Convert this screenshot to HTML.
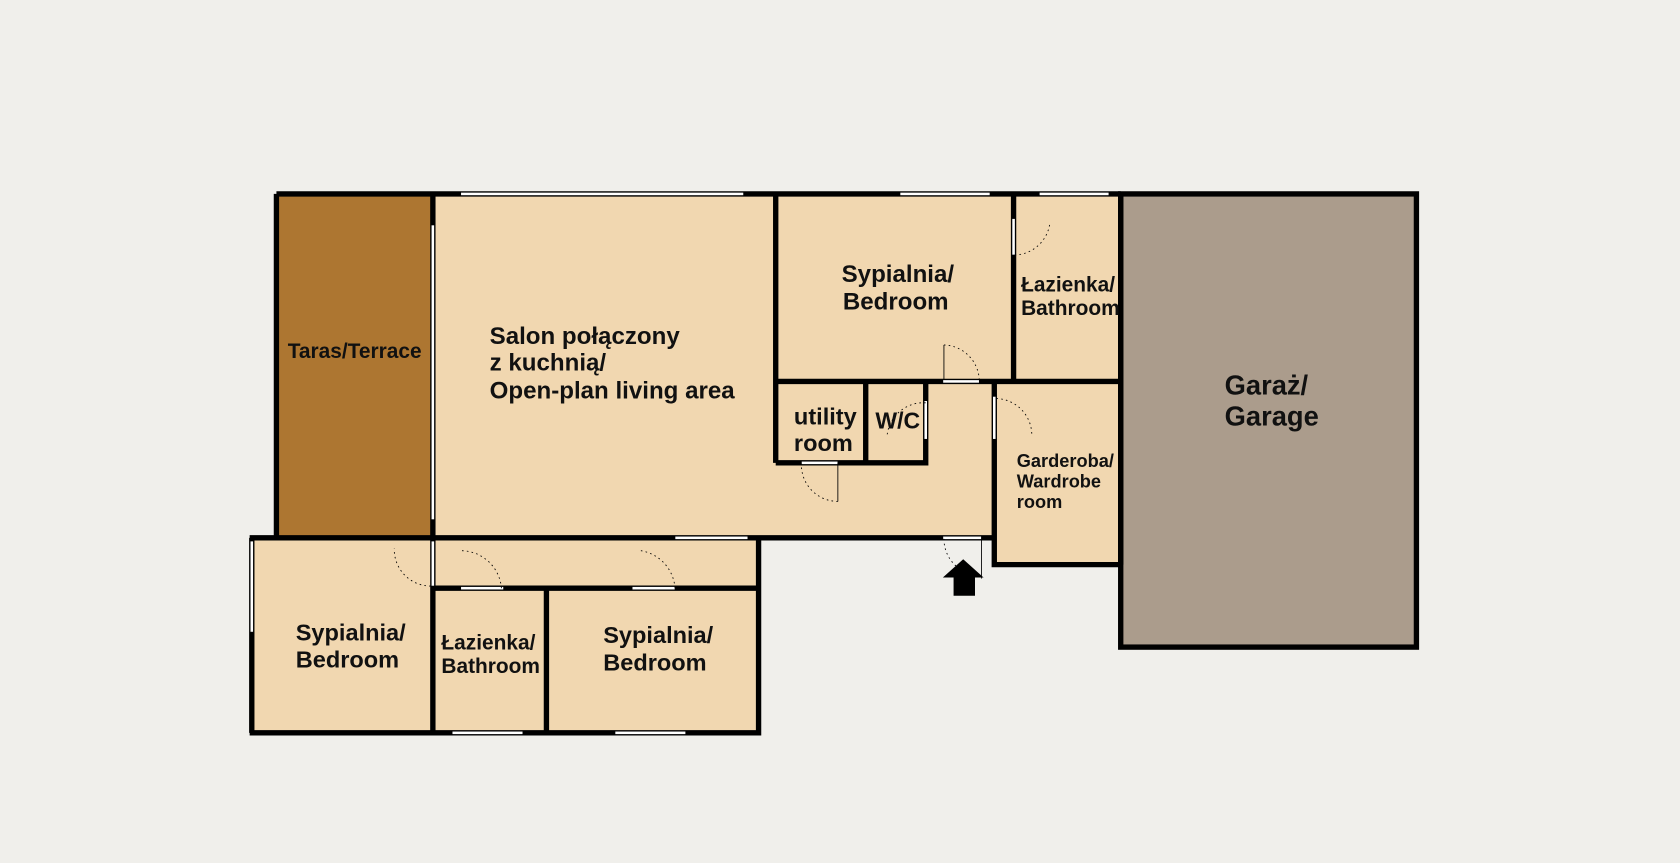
<!DOCTYPE html>
<html><head><meta charset="utf-8"><style>
html,body{margin:0;padding:0;background:#f0efeb;}
svg{display:block}
text{font-family:"Liberation Sans",sans-serif;font-weight:bold;fill:#111;}
</style></head><body>
<svg width="1680" height="863" viewBox="0 0 1568 805.5" preserveAspectRatio="none" xmlns="http://www.w3.org/2000/svg">
<rect x="0" y="0" width="1568" height="806" fill="#f0efeb"/>
<rect x="258" y="181" width="146" height="321" fill="#ad7631"/>
<rect x="404" y="181" width="642" height="321" fill="#f1d7b0"/>
<rect x="928" y="356" width="118" height="171" fill="#f1d7b0"/>
<rect x="235" y="502" width="473" height="182" fill="#f1d7b0"/>
<rect x="1046" y="181" width="276" height="423" fill="#ab9c8c"/>
<g fill="none" stroke="#000" stroke-width="5">
<path d="M258 181 H1046"/>
<path d="M258 181 V502"/>
<path d="M404 181 V502"/>
<path d="M724 181 V432"/>
<path d="M946 181 V356"/>
<path d="M1046 181 V527"/>
<path d="M724 356 H1046"/>
<path d="M724 432 H864 V356"/>
<path d="M808 356 V432"/>
<path d="M928 356 V527 H1046"/>
<path d="M233 502 H928"/>
<path d="M235 502 V684"/>
<path d="M233 684 H708 V502"/>
<path d="M404 549 H708"/>
<path d="M404 502 V684"/>
<path d="M510 549 V684"/>
<rect x="1046" y="181" width="276" height="423"/>
</g>
<g stroke="#000" stroke-width="0.6" fill="#fff">
<rect x="430" y="179.5" width="264" height="3"/>
<rect x="840" y="179.5" width="84" height="3"/>
<rect x="970" y="179.5" width="65" height="3"/>
<rect x="402.5" y="210" width="3" height="275"/>
<rect x="630" y="500.5" width="68" height="3"/>
<rect x="422" y="682.5" width="66" height="3"/>
<rect x="574" y="682.5" width="66" height="3"/>
<rect x="233.5" y="505" width="3" height="85"/>
<rect x="402.5" y="505" width="3" height="42"/>
<rect x="430" y="547.5" width="40" height="3"/>
<rect x="590" y="547.5" width="40" height="3"/>
<rect x="880" y="354.5" width="34" height="3"/>
<rect x="748" y="430.5" width="34" height="3"/>
<rect x="862.5" y="374" width="3" height="36"/>
<rect x="926.5" y="370" width="3" height="40"/>
<rect x="944.5" y="204" width="3" height="34"/>
<rect x="880" y="500.5" width="36" height="3"/>
</g>
<g fill="none" stroke="#000" stroke-width="0.8">
<path d="M881 354 V322"/><path d="M782 432 V468"/><path d="M916 503 V540"/>
</g>
<g fill="none" stroke="#000" stroke-width="0.8" stroke-dasharray="1.5 3">
<path d="M881 322 A34 34 0 0 1 914 355"/>
<path d="M782 468 A34 34 0 0 1 748 433"/>
<path d="M881 503 A34 34 0 0 0 916 537"/>
<path d="M947 238 A34 34 0 0 0 980 207"/>
<path d="M930 372 A34 34 0 0 1 963 406"/>
<path d="M864 376 A34 34 0 0 0 828 406"/>
<path d="M402 547 A34 34 0 0 1 368 512"/>
<path d="M468 549 A38 38 0 0 0 430 514"/>
<path d="M630 549 A38 38 0 0 0 598 514"/>
</g>
<polygon points="899,522 918,539 910,539 910,556 890,556 890,539 880,539" fill="#000"/>
<text x="331" y="334" font-size="19.5" text-anchor="middle">Taras/Terrace</text>
<text x="457" y="321" font-size="22.5">Salon połączony</text>
<text x="457" y="346" font-size="22.5">z kuchnią/</text>
<text x="457" y="372" font-size="22.5">Open-plan living area</text>
<text x="838" y="263" font-size="22.5" text-anchor="middle">Sypialnia/</text>
<text x="836" y="289" font-size="22.5" text-anchor="middle">Bedroom</text>
<text x="953" y="272" font-size="19.5">Łazienka/</text>
<text x="953" y="294" font-size="19.5">Bathroom</text>
<text x="741" y="396" font-size="22">utility</text>
<text x="741" y="421" font-size="22">room</text>
<text x="817" y="400" font-size="21.5">W/C</text>
<text x="949" y="436" font-size="17">Garderoba/</text>
<text x="949" y="455" font-size="17">Wardrobe</text>
<text x="949" y="474" font-size="17">room</text>
<text x="1143" y="368" font-size="25.5">Garaż/</text>
<text x="1143" y="397" font-size="25.5">Garage</text>
<text x="276" y="598" font-size="22">Sypialnia/</text>
<text x="276" y="623" font-size="22">Bedroom</text>
<text x="412" y="606" font-size="19.5">Łazienka/</text>
<text x="412" y="628" font-size="19.5">Bathroom</text>
<text x="563" y="600" font-size="22">Sypialnia/</text>
<text x="563" y="626" font-size="22">Bedroom</text>
</svg>
</body></html>
